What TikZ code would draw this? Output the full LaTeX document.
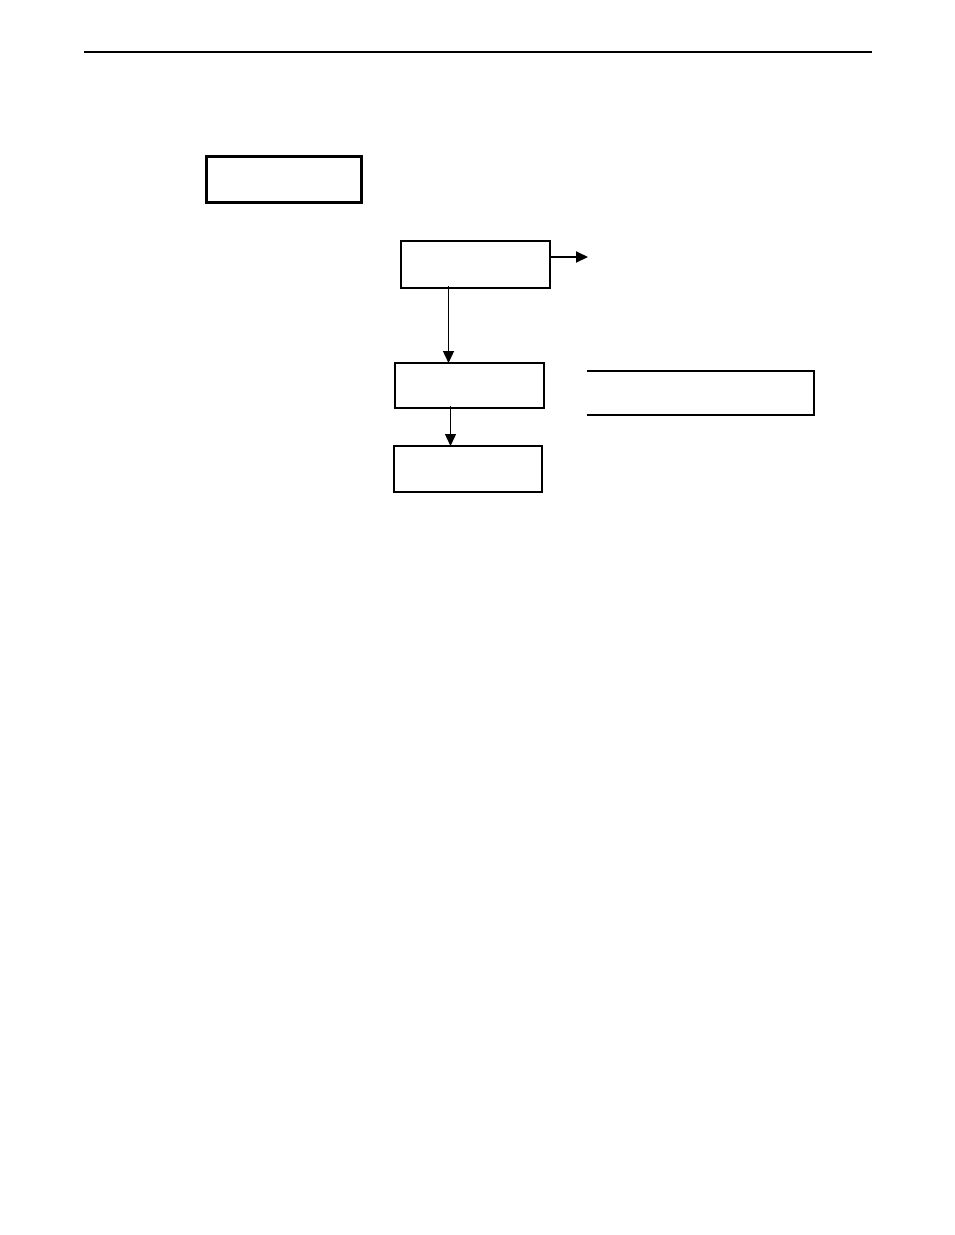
\documentclass[tikz,border=0pt]{standalone}
\usetikzlibrary{arrows.meta}
\begin{document}
\begin{tikzpicture}[x=1pt,y=-1pt,
  box/.style={draw, line width=1.2pt, inner sep=0pt, outer sep=0pt, anchor=north west},
  thickbox/.style={draw, line width=3pt, inner sep=0pt, outer sep=0pt, anchor=north west},
  arr/.style={line width=1.4pt, -{Triangle[length=12pt,width=11pt]}}]
\useasboundingbox (0,0) rectangle (954,1235);
\fill[white] (0,0) rectangle (954,1235);
% header rule
\coordinate (hl) at (84,52);
\coordinate (hr) at (872,52);
\draw[line width=1.3pt] (hl) -- (hr);
% boxes
\node[thickbox, minimum width=155pt, minimum height=46pt] (b1) at (206,156) {};
\node[box, minimum width=149pt, minimum height=47pt] (b2) at (401,241) {};
\node[box, minimum width=149pt, minimum height=45pt] (b3) at (395,363) {};
\node[box, minimum width=148pt, minimum height=46pt] (b4) at (394,446) {};
\draw[line width=2.2pt] (b4.north west) -- (b4.south west) -- (b4.south east);
\node[inner sep=0pt, outer sep=0pt, anchor=north west, minimum width=227pt, minimum height=44pt] (b5) at (587,371) {};
\draw[line width=1.5pt] (b5.north west) -- (b5.north east) -- (b5.south east) -- (b5.south west);
% connectors
\coordinate (r1) at (588,257);
\coordinate (c1) at (448.5,0);
\coordinate (c2) at (450.5,0);
\draw[arr, line width=2pt] (b2.east |- r1) -- (r1);
\draw[arr] ([yshift=2pt]b2.south -| c1) -- (b3.north -| c1);
\draw[arr] ([yshift=2pt]b3.south -| c2) -- (b4.north -| c2);
\end{tikzpicture}
\end{document}
